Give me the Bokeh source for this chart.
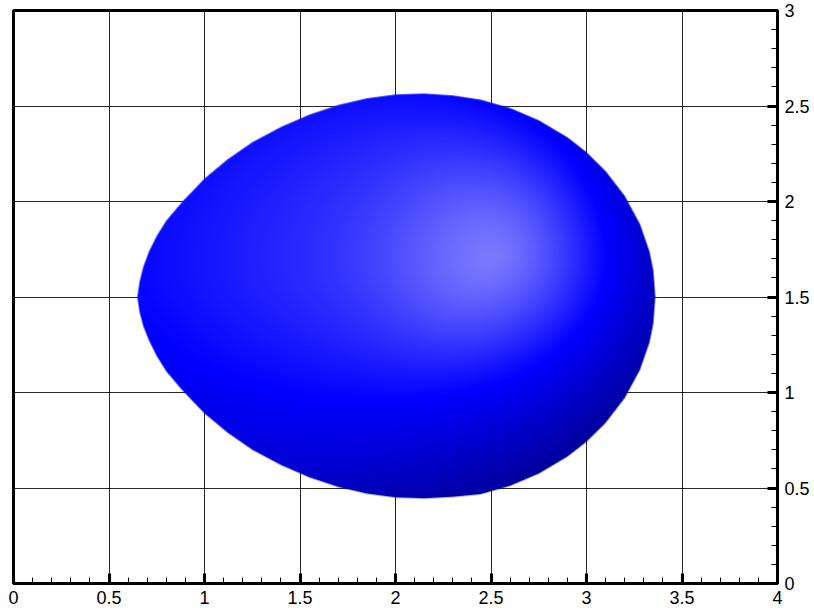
import numpy as np
from bokeh.plotting import figure
from bokeh.models import FixedTicker, Range1d
from bokeh.embed import file_html
from bokeh.resources import INLINE

# ---- data ----
x_ticks = [0, 0.5, 1, 1.5, 2, 2.5, 3, 3.5, 4]
x_tick_labels = ["0", "0.5", "1", "1.5", "2", "2.5", "3", "3.5", "4"]
y_ticks = [0, 0.5, 1, 1.5, 2, 2.5, 3]
y_tick_labels = ["0", "0.5", "1", "1.5", "2", "2.5", "3"]

# outline of the shaded body: upper edge (left -> right)
upper_x = [0.648, 0.66, 0.68, 0.71, 0.75, 0.80, 0.885, 1.0, 1.12, 1.25, 1.4, 1.55, 1.7,
           1.85, 2.0, 2.15, 2.3, 2.445, 2.6, 2.75, 2.9, 3.0, 3.1, 3.2, 3.28, 3.33, 3.35, 3.36]
upper_y = [1.50, 1.58, 1.66, 1.74, 1.82, 1.90, 2.00, 2.12, 2.22, 2.31, 2.39, 2.455, 2.505,
           2.54, 2.56, 2.565, 2.555, 2.533, 2.489, 2.425, 2.336, 2.258, 2.159, 2.029, 1.881,
           1.737, 1.637, 1.50]
# lower edge (left -> right)
lower_x = [0.648, 0.66, 0.68, 0.71, 0.75, 0.80, 0.885, 1.0, 1.12, 1.25, 1.4, 1.55, 1.7,
           1.85, 2.0, 2.15, 2.3, 2.445, 2.6, 2.75, 2.9, 3.0, 3.1, 3.2, 3.28, 3.33, 3.35, 3.36]
lower_y = [1.50, 1.42, 1.345, 1.27, 1.19, 1.11, 1.01, 0.89, 0.79, 0.70, 0.62, 0.555, 0.505,
           0.47, 0.45, 0.445, 0.453, 0.467, 0.511, 0.575, 0.664, 0.742, 0.841, 0.971, 1.119,
           1.263, 1.363, 1.50]

# brightest spot of the shading
highlight_x, highlight_y = 2.52, 1.69

# ---- layout ----
FRAME_W, FRAME_H = 764, 573
PPU = FRAME_W / (x_ticks[-1] - x_ticks[0])

p = figure(frame_width=FRAME_W, frame_height=FRAME_H,
           x_range=Range1d(x_ticks[0], x_ticks[-1]), y_range=Range1d(y_ticks[0], y_ticks[-1]),
           x_axis_location="below", y_axis_location="right",
           output_backend="svg", toolbar_location=None,
           min_border_left=13, min_border_top=10, min_border_right=30, min_border_bottom=25,
           background_fill_color="white", border_fill_color="white")

p.outline_line_color = "black"
p.outline_line_width = 3
p.outline_line_alpha = 1.0

minor = [round(v, 2) for v in np.arange(0, 4.001, 0.1)]
p.xaxis.ticker = FixedTicker(ticks=x_ticks, minor_ticks=minor)
p.yaxis.ticker = FixedTicker(ticks=y_ticks, minor_ticks=[m for m in minor if m <= 3])
p.xaxis.major_label_overrides = {t: l for t, l in zip(x_ticks, x_tick_labels)}
p.yaxis.major_label_overrides = {t: l for t, l in zip(y_ticks, y_tick_labels)}

for ax in (p.xaxis, p.yaxis):
    ax.axis_line_width = 3
    ax.axis_line_color = "black"
    ax.major_tick_in = 10
    ax.major_tick_out = 0
    ax.minor_tick_in = 6
    ax.minor_tick_out = 0
    ax.major_tick_line_width = 3
    ax.minor_tick_line_width = 1
    ax.major_tick_line_color = "black"
    ax.minor_tick_line_color = "black"
    ax.major_label_text_font = "Liberation Sans"
    ax.major_label_text_font_size = "18px"
    ax.major_label_text_color = "black"
    ax.major_label_standoff = 7

p.xgrid.ticker = FixedTicker(ticks=x_ticks)
p.ygrid.ticker = FixedTicker(ticks=y_ticks)
p.grid.grid_line_color = "black"
p.grid.grid_line_width = 1
p.grid.grid_line_alpha = 0.85

# ---- shaded body as an RGBA image ----
bx = np.array(upper_x + lower_x[::-1][1:-1])
by = np.array(upper_y + lower_y[::-1][1:-1])

x0, x1 = bx.min() - 0.02, bx.max() + 0.02
y0, y1 = by.min() - 0.02, by.max() + 0.02
nx = int(round((x1 - x0) * PPU))
ny = int(round((y1 - y0) * PPU))
x1 = x0 + nx / PPU
y1 = y0 + ny / PPU
xs = x0 + (np.arange(nx) + 0.5) / PPU
ys = y0 + (np.arange(ny) + 0.5) / PPU
X, Y = np.meshgrid(xs, ys)

# inside test and distance to outline (for a soft edge)
inside = np.zeros(X.shape, dtype=bool)
dist = np.full(X.shape, np.inf)
n = len(bx)
for i in range(n):
    xa, ya = bx[i], by[i]
    xb, yb = bx[(i + 1) % n], by[(i + 1) % n]
    if ya != yb:
        cross = ((ya > Y) != (yb > Y)) & (X < (xb - xa) * (Y - ya) / (yb - ya) + xa)
        inside ^= cross
    ex, ey = xb - xa, yb - ya
    L2 = ex * ex + ey * ey
    t = np.clip(((X - xa) * ex + (Y - ya) * ey) / L2, 0, 1)
    dd = np.hypot(X - (xa + t * ex), Y - (ya + t * ey))
    dist = np.minimum(dist, dd)
signed = np.where(inside, dist, -dist)
alpha = np.clip(0.5 + signed * PPU, 0, 1)

# shading relative to the highlight
phi_b = np.arctan2(by - highlight_y, bx - highlight_x)
r_b = np.hypot(bx - highlight_x, by - highlight_y)
order = np.argsort(phi_b)
phi_b, r_b = phi_b[order], r_b[order]
phi_e = np.concatenate([phi_b - 2 * np.pi, phi_b, phi_b + 2 * np.pi])
r_e = np.concatenate([r_b, r_b, r_b])

dX, dY = X - highlight_x, Y - highlight_y
d = np.hypot(dX, dY)
phi = np.arctan2(dY, dX)
R = np.interp(phi, phi_e, r_e)
rho = np.clip(d / R, 0, 1)

sn, cs = np.sin(phi), np.cos(phi)
s_edge = (0.86 + 0.12 * sn - 0.10 * cs - 0.12 * np.clip(-sn, 0, 1) ** 2
          + 0.07 * np.clip(-cs, 0, 1) ** 2)
gamma = 1.4 + 0.2 * sn - 0.1 * cs
base = s_edge + (1.25 - s_edge) * (1 - rho ** gamma)
s = base + 0.22 * np.exp(-(d / 0.55) ** 2)

rgba = np.zeros((ny, nx, 4), dtype=np.uint8)
w = np.clip(s - 1, 0, 1) * 255
rgba[..., 0] = w.astype(np.uint8)
rgba[..., 1] = w.astype(np.uint8)
rgba[..., 2] = (np.clip(s, 0, 1) * 255).astype(np.uint8)
rgba[..., 3] = (alpha * 255).astype(np.uint8)
img = rgba.view(np.uint32).reshape(ny, nx)

p.image_rgba(image=[img], x=x0, y=y0, dw=x1 - x0, dh=y1 - y0)

open("out.html", "w").write(file_html(p, INLINE))
